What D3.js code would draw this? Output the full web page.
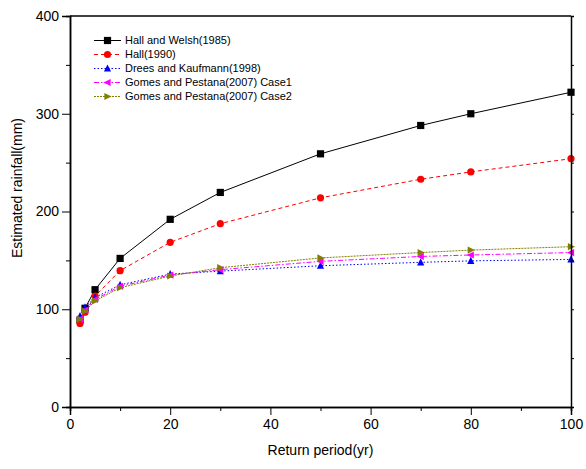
<!DOCTYPE html>
<html>
<head>
<meta charset="utf-8">
<script src="https://cdn.jsdelivr.net/npm/d3@7"></script>
<style>
  html, body { margin: 0; padding: 0; background: #fff; }
  svg { display: block; font-family: "Liberation Sans", Arial, sans-serif; }
</style>
</head>
<body>
<svg id="chart" width="586" height="469"></svg>
<script>
// Return periods (years)
const returnPeriods = [2, 3, 5, 10, 20, 30, 50, 70, 80, 100];

// Estimated rainfall (mm) for each method
const hallWelsh1985 = [89, 101, 120, 152, 192, 219.5, 259, 288, 300, 322];
const hall1990      = [85.5, 97, 113.5, 139.5, 168.5, 187.5, 214, 233, 240.5, 254];
const drees1998     = [93, 102, 112, 125, 136, 139, 144.5, 148, 149.5, 151];
const gomesCase1    = [90, 99, 110, 123.5, 135, 140.5, 149, 154, 155.5, 158];
const gomesCase2    = [90, 98, 108.5, 122, 134, 142.5, 152.5, 158, 160.5, 164];

const seriesNames = [
  "Hall and Welsh(1985)",
  "Hall(1990)",
  "Drees and Kaufmann(1998)",
  "Gomes and Pestana(2007) Case1",
  "Gomes and Pestana(2007) Case2"
];

const xTicks = [0, 20, 40, 60, 80, 100];
const yTicks = [0, 100, 200, 300, 400];

const series = [
  { name: seriesNames[0], values: hallWelsh1985, color: "#000000", dash: null,            symbol: "square" },
  { name: seriesNames[1], values: hall1990,      color: "#ff0000", dash: "4,3",           symbol: "circle" },
  { name: seriesNames[2], values: drees1998,     color: "#0000ff", dash: "1.5,2",         symbol: "triUp" },
  { name: seriesNames[3], values: gomesCase1,    color: "#ff00ff", dash: "5,2,1.5,2",     symbol: "triLeft" },
  { name: seriesNames[4], values: gomesCase2,    color: "#808000", dash: "2,1",           symbol: "triRight" }
];

const svg = d3.select("#chart");
const plotLeft = 70, plotRight = 571, plotTop = 16, plotBottom = 407;

const x = d3.scaleLinear().domain([0, 100]).range([plotLeft, plotRight]);
const y = d3.scaleLinear().domain([0, 400]).range([plotBottom, plotTop]);

// Marker shapes
function drawMarker(g, type, cx, cy, color) {
  const s = 3.6;
  if (type === "square") {
    g.append("rect").attr("x", cx - s).attr("y", cy - s).attr("width", 2 * s).attr("height", 2 * s).attr("fill", color);
  } else if (type === "circle") {
    g.append("circle").attr("cx", cx).attr("cy", cy).attr("r", s).attr("fill", color);
  } else {
    let pts;
    if (type === "triUp") pts = [[cx, cy - s - 0.5], [cx - s, cy + s - 0.5], [cx + s, cy + s - 0.5]];
    else if (type === "triLeft") pts = [[cx - s - 0.5, cy], [cx + s - 0.5, cy - s], [cx + s - 0.5, cy + s]];
    else pts = [[cx + s + 0.5, cy], [cx - s + 0.5, cy - s], [cx - s + 0.5, cy + s]];
    g.append("polygon").attr("points", pts.map(p => p.join(",")).join(" ")).attr("fill", color);
  }
}

// Series lines and markers
const line = d3.line().x(d => x(d[0])).y(d => y(d[1]));
series.forEach(s => {
  const pts = returnPeriods.map((p, i) => [p, s.values[i]]);
  svg.append("path")
    .datum(pts)
    .attr("d", line)
    .attr("fill", "none")
    .attr("stroke", s.color)
    .attr("stroke-width", 1)
    .attr("stroke-dasharray", s.dash);
});
series.forEach(s => {
  const g = svg.append("g");
  returnPeriods.forEach((p, i) => drawMarker(g, s.symbol, x(p), y(s.values[i]), s.color));
});

// Axes
const axisFont = "14px";
svg.append("g").attr("transform", `translate(0,${plotBottom})`)
  .call(d3.axisBottom(x).tickValues(xTicks).tickSize(8).tickPadding(4).tickFormat(d3.format("d")));
svg.append("g").attr("transform", `translate(${plotLeft},0)`)
  .call(d3.axisLeft(y).tickValues(yTicks).tickSize(8).tickPadding(3).tickFormat(d3.format("d")));

// Minor ticks
svg.append("g").attr("transform", `translate(0,${plotBottom})`)
  .call(d3.axisBottom(x).tickValues(d3.range(10, 100, 20)).tickSize(4).tickFormat(""));
svg.append("g").attr("transform", `translate(${plotLeft},0)`)
  .call(d3.axisLeft(y).tickValues(d3.range(50, 400, 100)).tickSize(4).tickFormat(""));

// Mirror ticks on the right edge
svg.append("g").attr("transform", `translate(${plotRight},0)`)
  .call(d3.axisRight(y).tickValues(d3.range(0, 401, 50)).tickSize(3).tickFormat(""));

// Frame top edge
svg.append("line").attr("x1", plotLeft).attr("x2", plotRight).attr("y1", plotTop).attr("y2", plotTop)
  .attr("stroke", "#000").attr("stroke-width", 1.5);

svg.selectAll(".domain").attr("stroke", "#000").attr("stroke-width", 1.5);
svg.selectAll(".tick line").attr("stroke", "#000").attr("stroke-width", 1);
svg.selectAll(".tick text").attr("font-size", axisFont).attr("fill", "#000")
  .attr("font-family", "Liberation Sans, Arial, sans-serif");

// Axis titles
svg.append("text")
  .attr("x", (plotLeft + plotRight) / 2).attr("y", 455)
  .attr("text-anchor", "middle").attr("font-size", "14px").attr("fill", "#000")
  .text("Return period(yr)");
svg.append("text")
  .attr("transform", "translate(22,188) rotate(-90)")
  .attr("text-anchor", "middle").attr("font-size", "14px").attr("fill", "#000")
  .text("Estimated rainfall(mm)");

// Legend
const legend = svg.append("g");
series.forEach((s, i) => {
  const ly = 40.5 + i * 14;
  legend.append("line")
    .attr("x1", 94).attr("x2", 121).attr("y1", ly).attr("y2", ly)
    .attr("stroke", s.color).attr("stroke-width", 1).attr("stroke-dasharray", s.dash);
  drawMarker(legend, s.symbol, 107.5, ly, s.color);
  legend.append("text")
    .attr("x", 125).attr("y", ly).attr("dy", "0.35em")
    .attr("font-size", "11px").attr("fill", "#000")
    .text(s.name);
});
</script>
</body>
</html>
